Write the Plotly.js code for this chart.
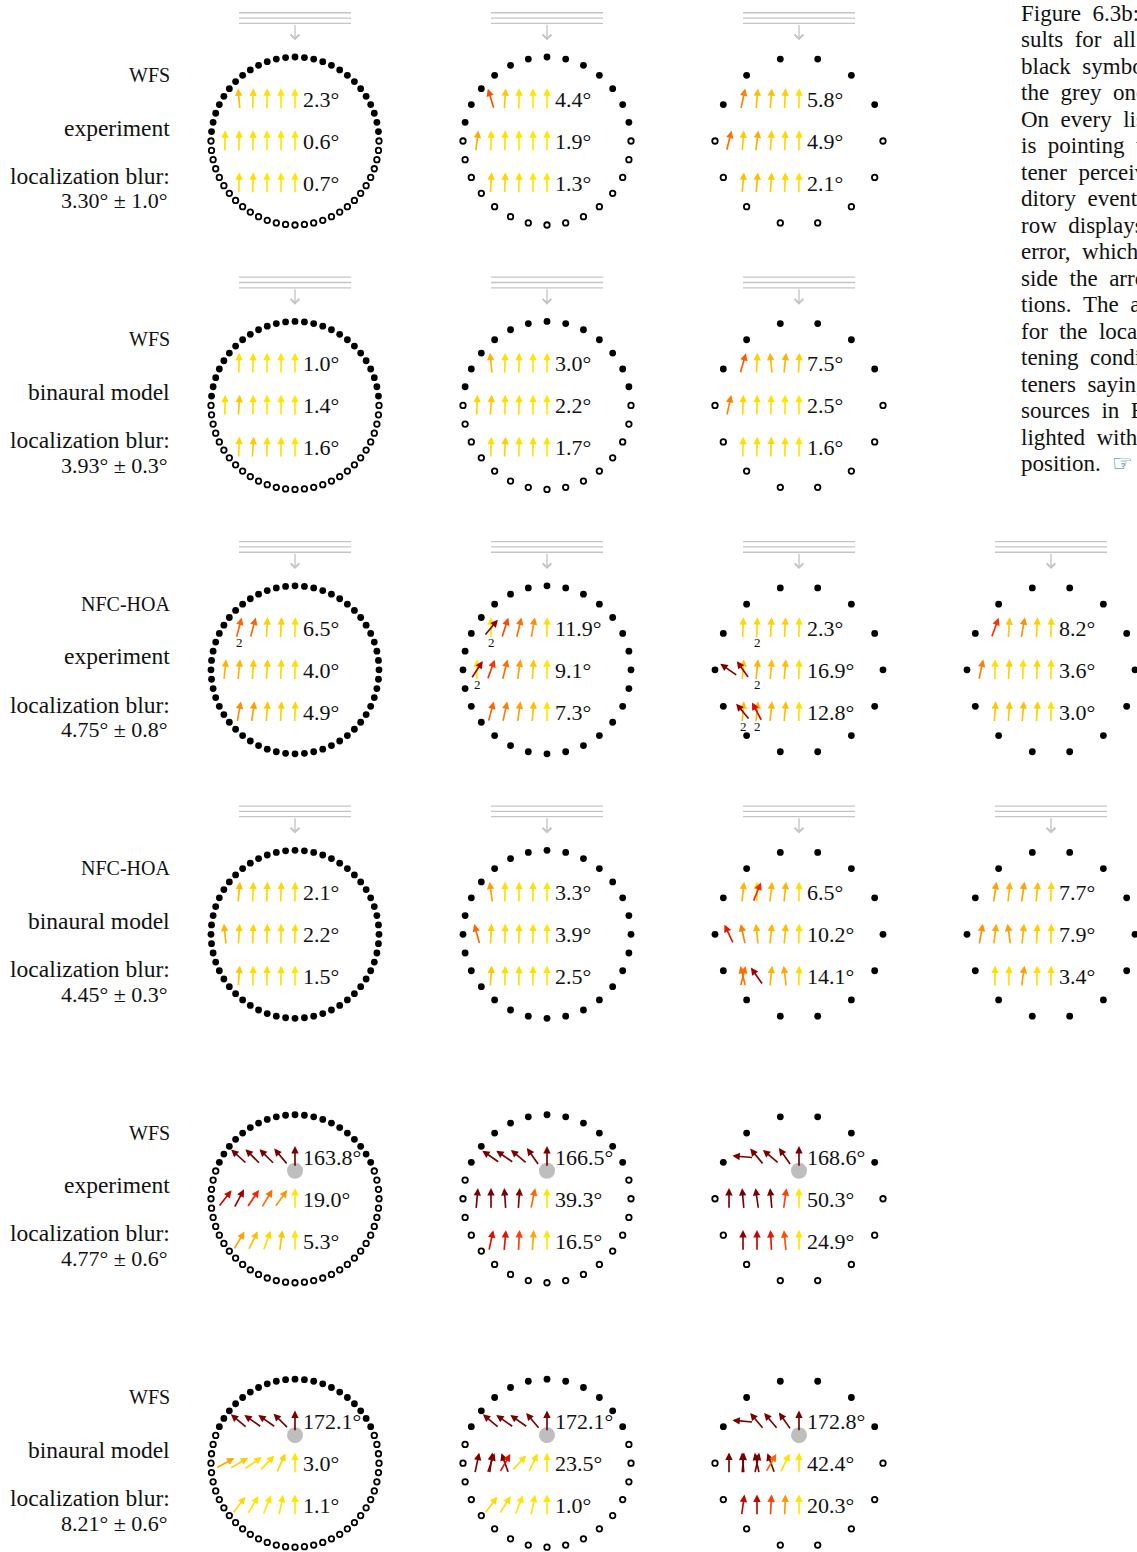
<!DOCTYPE html>
<html><head><meta charset="utf-8">
<script src="https://cdn.plot.ly/plotly-3.0.1.min.js"></script>
<style>body{margin:0;background:#fff}#chart{width:1137px;height:1552px}</style>
</head><body><div id="chart"></div>
<script>
// ================= DATA =================
const speakerCounts = [[56,28,14],[56,28,14],[56,28,14,14],[56,28,14,14],[56,28,14],[56,28,14]];
const sourceTypes = ['plane','plane','plane','plane','focused','focused'];
const allActive = [false,false,true,true,false,false];
const systemNames = ['WFS','WFS','NFC-HOA','NFC-HOA','WFS','WFS'];
const conditionNames = ['experiment','binaural model','experiment','binaural model','experiment','binaural model'];
const blurMean = ['3.30','3.93','4.75','4.45','4.77','8.21'];
const blurStd = ['1.0','0.3','0.8','0.3','0.6','0.6'];
const listenerY = [0.75, 0, -0.75];
const listenerXOuter = [-1.0,-0.75,-0.5,-0.25,0];
const listenerXMiddle = [-1.25,-1.0,-0.75,-0.5,-0.25,0];
const focusedSource = [0, 0.5];

// average localization error per listener row [panel][row]
const errWfsExp   = [[2.3,0.6,0.7],[4.4,1.9,1.3],[5.8,4.9,2.1]];
const errWfsModel = [[1.0,1.4,1.6],[3.0,2.2,1.7],[7.5,2.5,1.6]];
const errHoaExp   = [[6.5,4.0,4.9],[11.9,9.1,7.3],[2.3,16.9,12.8],[8.2,3.6,3.0]];
const errHoaModel = [[2.1,2.2,1.5],[3.3,3.9,2.5],[6.5,10.2,14.1],[7.7,7.9,3.4]];
const errFocExp   = [[163.8,19.0,5.3],[166.5,39.3,16.5],[168.6,50.3,24.9]];
const errFocModel = [[172.1,3.0,1.1],[172.1,23.5,1.0],[172.8,42.4,20.3]];

// perceived direction in degrees (0 = straight ahead/up, positive = to the right) [panel][row][listener]
const dirWfsExp = [
  [[-5,2,1,0,0],[1,1,1,0,0,0],[1,1,0,0,0]],
  [[-17,4,1,0,0],[7,1,1,0,0,0],[3,2,1,0,0]],
  [[12,5,5,3,1],[14,4,7,3,2,1],[5,5,4,2,1]]
];
const dirWfsModel = [
  [[1,1,0,0,0],[1,4,1,0,0,0],[2,4,1,1,0]],
  [[-6,1,1,0,0],[2,4,1,1,0,0],[1,3,1,1,0]],
  [[16,3,-6,6,3],[12,2,1,1,0,0],[1,1,2,1,0]]
];
const dirHoaExp = [
  [[15,15,3,3,1],[6,6,4,3,2,1],[10,8,4,3,2]],
  [[40,18,14,10,1],[33,20,14,8,4,0],[15,12,8,5,0]],
  [[2,2,3,3,1],[-55,-35,6,5,5,1],[-40,-28,6,5,1]],
  [[20,4,10,3,2],[12,1,3,1,2,1],[4,4,5,3,1]]
];
const dirHoaModel = [
  [[5,2,2,2,1],[-6,3,2,2,1,1],[4,1,1,1,0]],
  [[-8,1,1,1,0],[-15,3,1,1,1,0],[4,1,1,1,0]],
  [[6,22,6,6,1],[-25,-12,-6,6,5,1],[14,-35,6,-7,1]],
  [[8,6,8,5,2],[10,7,-8,6,3,2],[1,1,8,1,1]]
];
const dirFocExp = [
  [[-48,-45,-45,-40,0],[38,28,34,31,36,0],[31,26,20,7,0]],
  [[-55,-55,-50,-35,0],[5,0,-4,4,12,0],[12,5,3,4,0]],
  [[-85,-40,-50,-35,0],[0,-5,-8,-5,8,0],[0,0,-3,-6,0]]
];
const dirFocModel = [
  [[-50,-55,-55,-45,0],[61,60,55,44,24,0],[37,31,22,11,0]],
  [[-50,-55,-55,-40,0],[12,20,30,44,26,0],[37,32,22,11,0]],
  [[-85,-40,-40,-35,0],[0,-5,-12,30,26,0],[8,0,3,2,0]]
];
// second auditory events: [figureRow, panel, listenerRow, listenerX, direction]
const extraArrows = [
  [2,1,0,-1.0,0],[2,1,1,-1.25,0],[2,2,1,-1.0,4],[2,2,2,-1.0,5],[2,2,2,-0.75,6],
  [3,2,0,-0.75,1],[3,2,2,-1.0,-14],
  [5,1,1,-1.0,8],[5,1,1,-0.75,-20],[5,2,1,-1.0,5],[5,2,1,-0.75,12],[5,2,1,-0.5,-20]
];
// "2" markers: [figureRow, panel, listenerRow, listenerX]
const countLabels = [[2,0,0,-1.0],[2,1,0,-1.0],[2,1,1,-1.25],[2,2,0,-0.75],[2,2,1,-0.75],[2,2,2,-1.0],[2,2,2,-0.75]];

const captionLines = ['Figure 6.3b: Re-','sults for all','black symbols','the grey ones','On every list','is pointing to','tener perceived','ditory event','row displays','error, which','side the arrow','tions. The a','for the locali','tening condi','teners saying','sources in Ex','lighted with','position. <span style="color:#16788c">☞</span>'];

// ================= LAYOUT CONSTANTS =================
const dirTables = [dirWfsExp, dirWfsModel, dirHoaExp, dirHoaModel, dirFocExp, dirFocModel];
const errTables = [errWfsExp, errWfsModel, errHoaExp, errHoaModel, errFocExp, errFocModel];
const PX = 56;                // pixels per metre
const R = 1.5, colDx = 4.5, rowDy = 4.722, halfLen = 0.19;
const SERIF = 'Liberation Serif, Times New Roman, serif';
const x0 = -295/PX, x1 = x0 + 1137/PX;
const y1 = 141/PX, y0 = y1 - 1552/PX;

const errStops = [0,4,8,14,20,27,35,45];
const errRGB = [[255,230,0],[255,200,0],[255,160,0],[255,110,0],[255,50,0],[225,10,0],[160,0,0],[122,0,0]];
function errColor(e){
  if(e>=errStops[errStops.length-1]) return 'rgb('+errRGB[errRGB.length-1].join(',')+')';
  for(let i=0;i<errStops.length-1;i++){
    if(e<=errStops[i+1]){
      const t=(e-errStops[i])/(errStops[i+1]-errStops[i]);
      const c=errRGB[i].map((v,k)=>Math.round(v+(errRGB[i+1][k]-v)*t));
      return 'rgb('+c.join(',')+')';
    }
  }
}
function trueDir(x,y,type){
  if(type==='plane') return 0;
  return Math.atan2(focusedSource[0]-x, focusedSource[1]-y)*180/Math.PI;
}
function angErr(a,b){let d=Math.abs(a-b)%360; return d>180?360-d:d;}

const annotations = [];
const filled = {x:[],y:[]}, open = {x:[],y:[]}, wave = {x:[],y:[]}, focus = {x:[],y:[]};

function arrow(cx,cy,lx,ly,dir,type){
  const t=dir*Math.PI/180, dx=halfLen*Math.sin(t), dy=halfLen*Math.cos(t);
  const col = errColor(angErr(dir, trueDir(lx,ly,type)));
  annotations.push({x:cx+lx+dx, y:cy+ly+dy, ax:cx+lx-dx, ay:cy+ly-dy,
    xref:'x', yref:'y', axref:'x', ayref:'y', text:'', showarrow:true,
    arrowhead:2, arrowsize:0.9, arrowwidth:1.65, arrowcolor:col, standoff:0, startstandoff:0});
}
function txt(x,y,text,size,anchor){
  annotations.push({x, y, xref:'x', yref:'y', text, showarrow:false, xanchor:anchor||'left', yanchor:'middle',
    borderpad:0, font:{family:SERIF, size, color:'#111'}});
}

for(let r=0;r<6;r++){
  const cy = -r*rowDy, type = sourceTypes[r];
  // left labels
  txt(-2.22, cy+1.18, systemNames[r], 20, 'right');
  txt(-2.22, cy+0.24, conditionNames[r], 23.5, 'right');
  txt(-2.22, cy-0.62, 'localization blur:', 23.5, 'right');
  txt(-2.25, cy-1.07, blurMean[r]+'° ± '+blurStd[r]+'°', 22, 'right');
  speakerCounts[r].forEach((n,c)=>{
    const cx = c*colDx;
    for(let k=0;k<n;k++){
      const a=2*Math.PI*k/n, sx=R*Math.cos(a), sy=R*Math.sin(a);
      const active = allActive[r] || (type==='plane' ? sy>1e-6 : sy>focusedSource[1]);
      const tgt = active?filled:open;
      tgt.x.push(cx+sx); tgt.y.push(cy+sy);
    }
    if(type==='plane'){
      [2.29,2.195,2.10].forEach(h=>{wave.x.push(cx-1.0,cx+1.0,null); wave.y.push(cy+h,cy+h,null);});
      annotations.push({x:cx, y:cy+1.80, ax:cx, ay:cy+2.10, xref:'x', yref:'y', axref:'x', ayref:'y',
        text:'', showarrow:true, arrowhead:4, arrowsize:1.3, arrowwidth:1.3, arrowcolor:'#c2c2c2', standoff:0, startstandoff:0});
    } else {
      focus.x.push(cx+focusedSource[0]); focus.y.push(cy+focusedSource[1]);
    }
    // second auditory events (drawn underneath)
    extraArrows.filter(e=>e[0]===r&&e[1]===c).forEach(e=>arrow(cx,cy,e[3],listenerY[e[2]],e[4],type));
    const dirs = dirTables[r][c];
    dirs.forEach((row,li)=>{
      const xs = li===1?listenerXMiddle:listenerXOuter;
      row.forEach((d,i)=>arrow(cx,cy,xs[i],listenerY[li],d,type));
      txt(cx+0.12, cy+listenerY[li]-0.005, errTables[r][c][li].toFixed(1)+'°', 22, 'left');
    });
    countLabels.filter(e=>e[0]===r&&e[1]===c).forEach(e=>{
      annotations.push({x:cx+e[3], y:cy+listenerY[e[2]]-0.27, xref:'x', yref:'y', text:'2', showarrow:false,
        xanchor:'center', yanchor:'middle', font:{family:SERIF, size:13, color:'#111'}});
    });
  });
}

// caption at right (justified text, word gaps widened)
captionLines.forEach((t,i)=>{
  annotations.push({x:(1020-295)/PX, y:(141-(13+i*26.5))/PX, xref:'x', yref:'y',
    text:t.replace(/ (?![^<]*>)/g,' \u00a0'), showarrow:false, borderpad:0,
    xanchor:'left', yanchor:'middle', font:{family:SERIF, size:23, color:'#111'}});
});

const traces = [
  {x:wave.x, y:wave.y, mode:'lines', line:{color:'#c4c4c4', width:1.3}, hoverinfo:'skip'},
  {x:focus.x, y:focus.y, mode:'markers', marker:{symbol:'circle', size:16, color:'#bebebe'}, hoverinfo:'skip'},
  {x:filled.x, y:filled.y, mode:'markers', marker:{symbol:'circle', size:6.8, color:'#000'}, hoverinfo:'skip'},
  {x:open.x, y:open.y, mode:'markers', marker:{symbol:'circle-open', size:5.5, color:'#000', line:{width:1.8}}, hoverinfo:'skip'}
];

const layout = {
  width:1137, height:1552, margin:{l:0,r:0,t:0,b:0}, paper_bgcolor:'#fff', plot_bgcolor:'#fff',
  showlegend:false, hovermode:false,
  xaxis:{range:[x0,x1], visible:false, fixedrange:true},
  yaxis:{range:[y0,y1], visible:false, fixedrange:true},
  annotations
};
Plotly.newPlot('chart', traces, layout, {staticPlot:true, displayModeBar:false});
</script></body></html>
